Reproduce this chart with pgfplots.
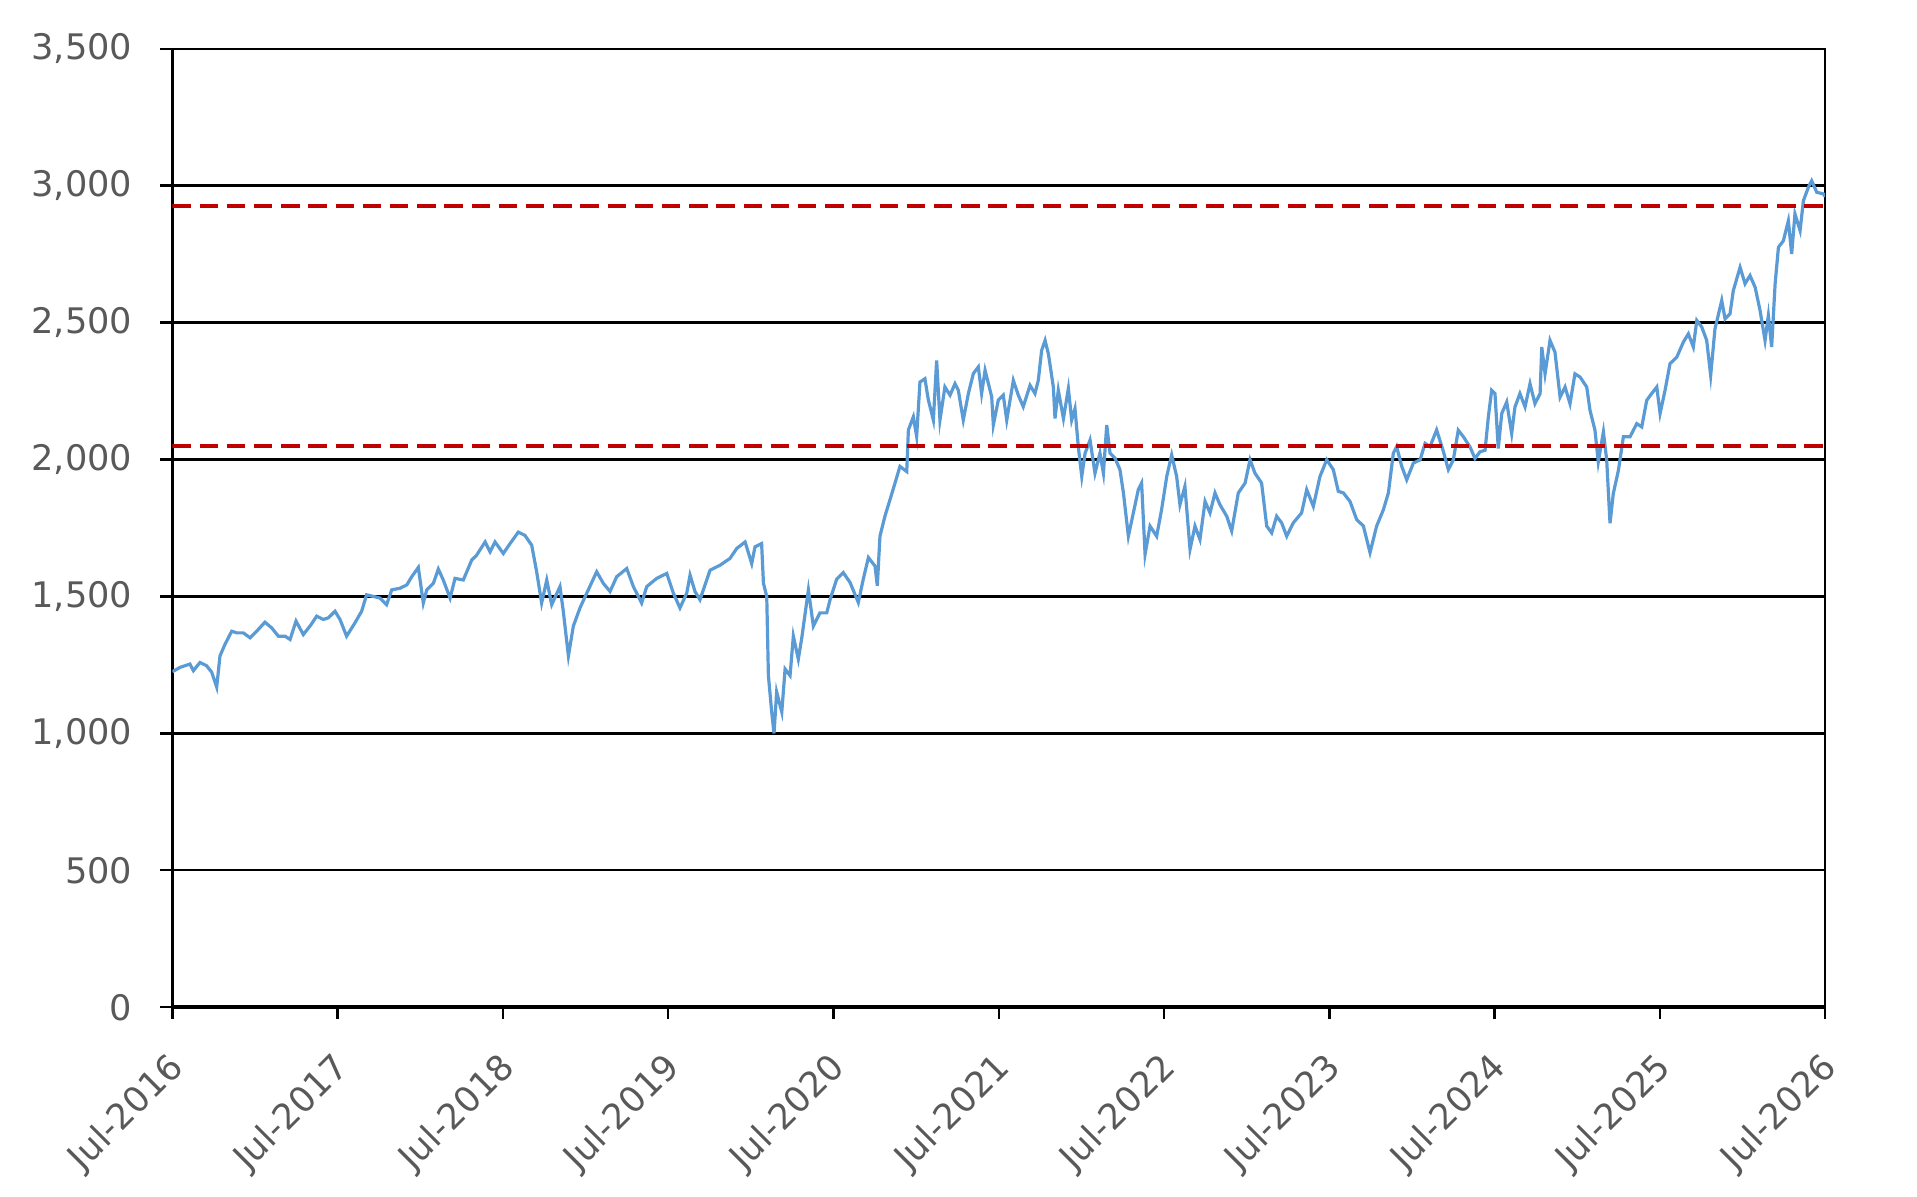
\documentclass[border=0pt]{standalone}
\usepackage{pgfplots}
\pgfplotsset{compat=1.18}
\usepackage{fontspec}
\setmainfont{DejaVu Sans}
\definecolor{lineblue}{RGB}{91,155,213}
\definecolor{dkred}{RGB}{192,0,0}
\definecolor{labgray}{RGB}{89,89,89}
\begin{document}
\begin{tikzpicture}
\begin{axis}[
  at={(0,0)}, anchor=south west,
  scale only axis,
  width=413.2pt, height=239.6pt,
  xmin=2016.5, xmax=2026.5,
  ymin=0, ymax=3500,
  xtick={2016.5,2017.5,2018.5,2019.5,2020.5,2021.5,2022.5,2023.5,2024.5,2025.5,2026.5},
  xticklabels={Jul-2016,Jul-2017,Jul-2018,Jul-2019,Jul-2020,Jul-2021,Jul-2022,Jul-2023,Jul-2024,Jul-2025,Jul-2026},
  ytick={0,500,1000,1500,2000,2500,3000,3500},
  extra y ticks={0},
  extra y tick labels={},
  extra y tick style={grid style={black, line width=1.1pt}, major tick length=0pt},
  tick align=outside,
  major tick length=3pt,
  xtick pos=bottom, ytick pos=left,
  ymajorgrids,
  grid style={black, line width=0.6pt},
  axis line style={black, line width=0.6pt},
  tick style={black, line width=0.6pt},
  /pgf/number format/.cd, 1000 sep={,}, assume math mode=true,
  /pgfplots/.cd,
  ticklabel style={font=\fontsize{8.8}{10}\selectfont, text=labgray},
  yticklabel style={xshift=-3.5pt},
  xticklabel style={xshift=-1.5pt, yshift=-7.5pt, rotate=45, anchor=north east, inner sep=0pt},
  clip=true,
]
\addplot[lineblue, line width=0.8pt] coordinates {
(2016.500,1225) (2016.546,1241) (2016.606,1253) (2016.627,1229) (2016.667,1259) (2016.707,1247) (2016.738,1223) (2016.768,1169)
(2016.788,1283) (2016.818,1325) (2016.859,1373) (2016.889,1367) (2016.929,1367) (2016.970,1349) (2017.010,1373) (2017.060,1406)
(2017.101,1385) (2017.141,1355) (2017.181,1355) (2017.212,1343) (2017.248,1410) (2017.292,1361) (2017.333,1392) (2017.373,1428)
(2017.413,1416) (2017.444,1422) (2017.484,1446) (2017.514,1416) (2017.554,1355) (2017.605,1404) (2017.645,1446) (2017.675,1506)
(2017.716,1500) (2017.756,1494) (2017.796,1470) (2017.827,1524) (2017.877,1530) (2017.918,1542) (2017.948,1572) (2017.988,1606)
(2018.018,1476) (2018.039,1524) (2018.079,1548) (2018.109,1600) (2018.139,1560) (2018.180,1494) (2018.210,1566) (2018.260,1560)
(2018.311,1633) (2018.341,1651) (2018.392,1699) (2018.422,1663) (2018.452,1699) (2018.502,1657) (2018.543,1693)
(2018.593,1735) (2018.633,1723) (2018.674,1687) (2018.704,1590) (2018.734,1476) (2018.765,1560) (2018.795,1470) (2018.845,1536)
(2018.865,1446) (2018.896,1283) (2018.926,1392) (2018.966,1458) (2019.007,1512) (2019.067,1590) (2019.107,1548) (2019.148,1518)
(2019.188,1572) (2019.249,1602) (2019.289,1536) (2019.339,1476) (2019.370,1536) (2019.430,1566) (2019.491,1584) (2019.531,1512)
(2019.571,1458) (2019.612,1512) (2019.632,1578) (2019.662,1518) (2019.692,1488) (2019.753,1596) (2019.813,1614) (2019.874,1639)
(2019.914,1675) (2019.965,1699) (2020.005,1620) (2020.025,1681) (2020.065,1693) (2020.076,1548) (2020.096,1500) (2020.106,1211)
(2020.126,1078) (2020.140,1000) (2020.156,1151) (2020.187,1078) (2020.207,1235) (2020.237,1211) (2020.257,1355) (2020.287,1271)
(2020.308,1349) (2020.348,1524) (2020.378,1392) (2020.418,1440) (2020.459,1440) (2020.479,1488)
(2020.519,1563) (2020.559,1587) (2020.600,1551) (2020.650,1478) (2020.680,1563) (2020.711,1642) (2020.751,1611) (2020.765,1539)
(2020.781,1720) (2020.811,1793) (2020.842,1854) (2020.872,1914) (2020.902,1975) (2020.943,1956) (2020.953,2108) (2020.983,2156)
(2021.003,2084) (2021.023,2283) (2021.053,2295) (2021.074,2217) (2021.104,2144) (2021.124,2362) (2021.144,2144) (2021.174,2265)
(2021.205,2235) (2021.235,2277) (2021.255,2253) (2021.285,2144) (2021.316,2241) (2021.346,2314) (2021.376,2338) (2021.396,2241)
(2021.417,2326) (2021.457,2229) (2021.467,2126) (2021.497,2217) (2021.527,2235) (2021.548,2144) (2021.588,2289) (2021.618,2235)
(2021.648,2193) (2021.689,2271) (2021.719,2241) (2021.739,2289) (2021.759,2398) (2021.780,2435) (2021.800,2386) (2021.830,2265)
(2021.840,2150) (2021.860,2253) (2021.891,2150) (2021.921,2259) (2021.941,2144) (2021.961,2186) (2021.981,2047) (2022.002,1938)
(2022.022,2023) (2022.052,2071) (2022.082,1950) (2022.112,2023) (2022.133,1950) (2022.153,2126) (2022.173,2023) (2022.203,2005)
(2022.233,1963) (2022.254,1878) (2022.284,1720) (2022.314,1805) (2022.344,1890) (2022.364,1914)
(2022.385,1654) (2022.415,1757) (2022.455,1720) (2022.485,1817) (2022.516,1938) (2022.546,2017) (2022.576,1938) (2022.596,1835)
(2022.626,1902) (2022.657,1672) (2022.687,1757) (2022.717,1708) (2022.748,1847) (2022.778,1805) (2022.808,1878) (2022.838,1835)
(2022.879,1793) (2022.909,1739) (2022.949,1878) (2022.990,1914) (2023.020,1999) (2023.050,1950) (2023.090,1914) (2023.121,1757)
(2023.151,1732) (2023.181,1793) (2023.211,1769) (2023.242,1720) (2023.282,1769) (2023.332,1805) (2023.363,1890) (2023.403,1829)
(2023.443,1938) (2023.484,1999) (2023.524,1963) (2023.554,1884) (2023.585,1878) (2023.625,1847) (2023.665,1781) (2023.706,1757)
(2023.746,1660) (2023.786,1757) (2023.827,1817) (2023.857,1878) (2023.887,2023) (2023.907,2047) (2023.938,1975) (2023.968,1926)
(2024.008,1987) (2024.049,1999) (2024.079,2059) (2024.109,2047) (2024.149,2108) (2024.190,2029) (2024.220,1963) (2024.250,1999)
(2024.280,2107) (2024.311,2083) (2024.351,2046) (2024.381,2004) (2024.411,2028) (2024.442,2034) (2024.462,2156) (2024.482,2253)
(2024.502,2241) (2024.522,2040) (2024.543,2168) (2024.573,2210) (2024.603,2095) (2024.623,2192) (2024.653,2241) (2024.684,2192)
(2024.714,2277) (2024.744,2204) (2024.775,2241) (2024.785,2411) (2024.805,2313) (2024.835,2435) (2024.865,2392) (2024.896,2228)
(2024.926,2265) (2024.956,2204) (2024.986,2313) (2025.017,2301) (2025.057,2265) (2025.077,2180) (2025.107,2107) (2025.127,1991)
(2025.158,2101) (2025.178,1998) (2025.198,1767) (2025.218,1876) (2025.249,1961) (2025.279,2083) (2025.319,2083) (2025.360,2131)
(2025.390,2119) (2025.420,2216) (2025.450,2241) (2025.481,2265) (2025.501,2168) (2025.531,2253) (2025.561,2350) (2025.602,2374)
(2025.642,2429) (2025.672,2459) (2025.702,2411) (2025.723,2508) (2025.753,2484) (2025.783,2435) (2025.807,2307) (2025.833,2477)
(2025.874,2581) (2025.894,2514) (2025.924,2532) (2025.944,2617) (2025.985,2702) (2026.015,2642) (2026.045,2672) (2026.076,2629)
(2026.106,2544) (2026.136,2435) (2026.156,2526) (2026.176,2411) (2026.197,2642) (2026.217,2775) (2026.247,2799) (2026.277,2872)
(2026.297,2751) (2026.317,2897) (2026.348,2836) (2026.368,2945) (2026.398,2994) (2026.418,3018) (2026.449,2976) (2026.489,2970)
(2026.500,2960)
};
\addplot[dkred, line width=1.1pt, dash pattern=on 4.6pt off 2.2pt] coordinates {(2016.5,2925) (2026.5,2925)};
\addplot[dkred, line width=1.1pt, dash pattern=on 4.6pt off 2.2pt] coordinates {(2016.5,2050) (2026.5,2050)};
\end{axis}
\pgfresetboundingbox
\path[use as bounding box] (-43.1pt,-47.4pt) rectangle (436.15pt,251.8pt);
\end{tikzpicture}
\end{document}
